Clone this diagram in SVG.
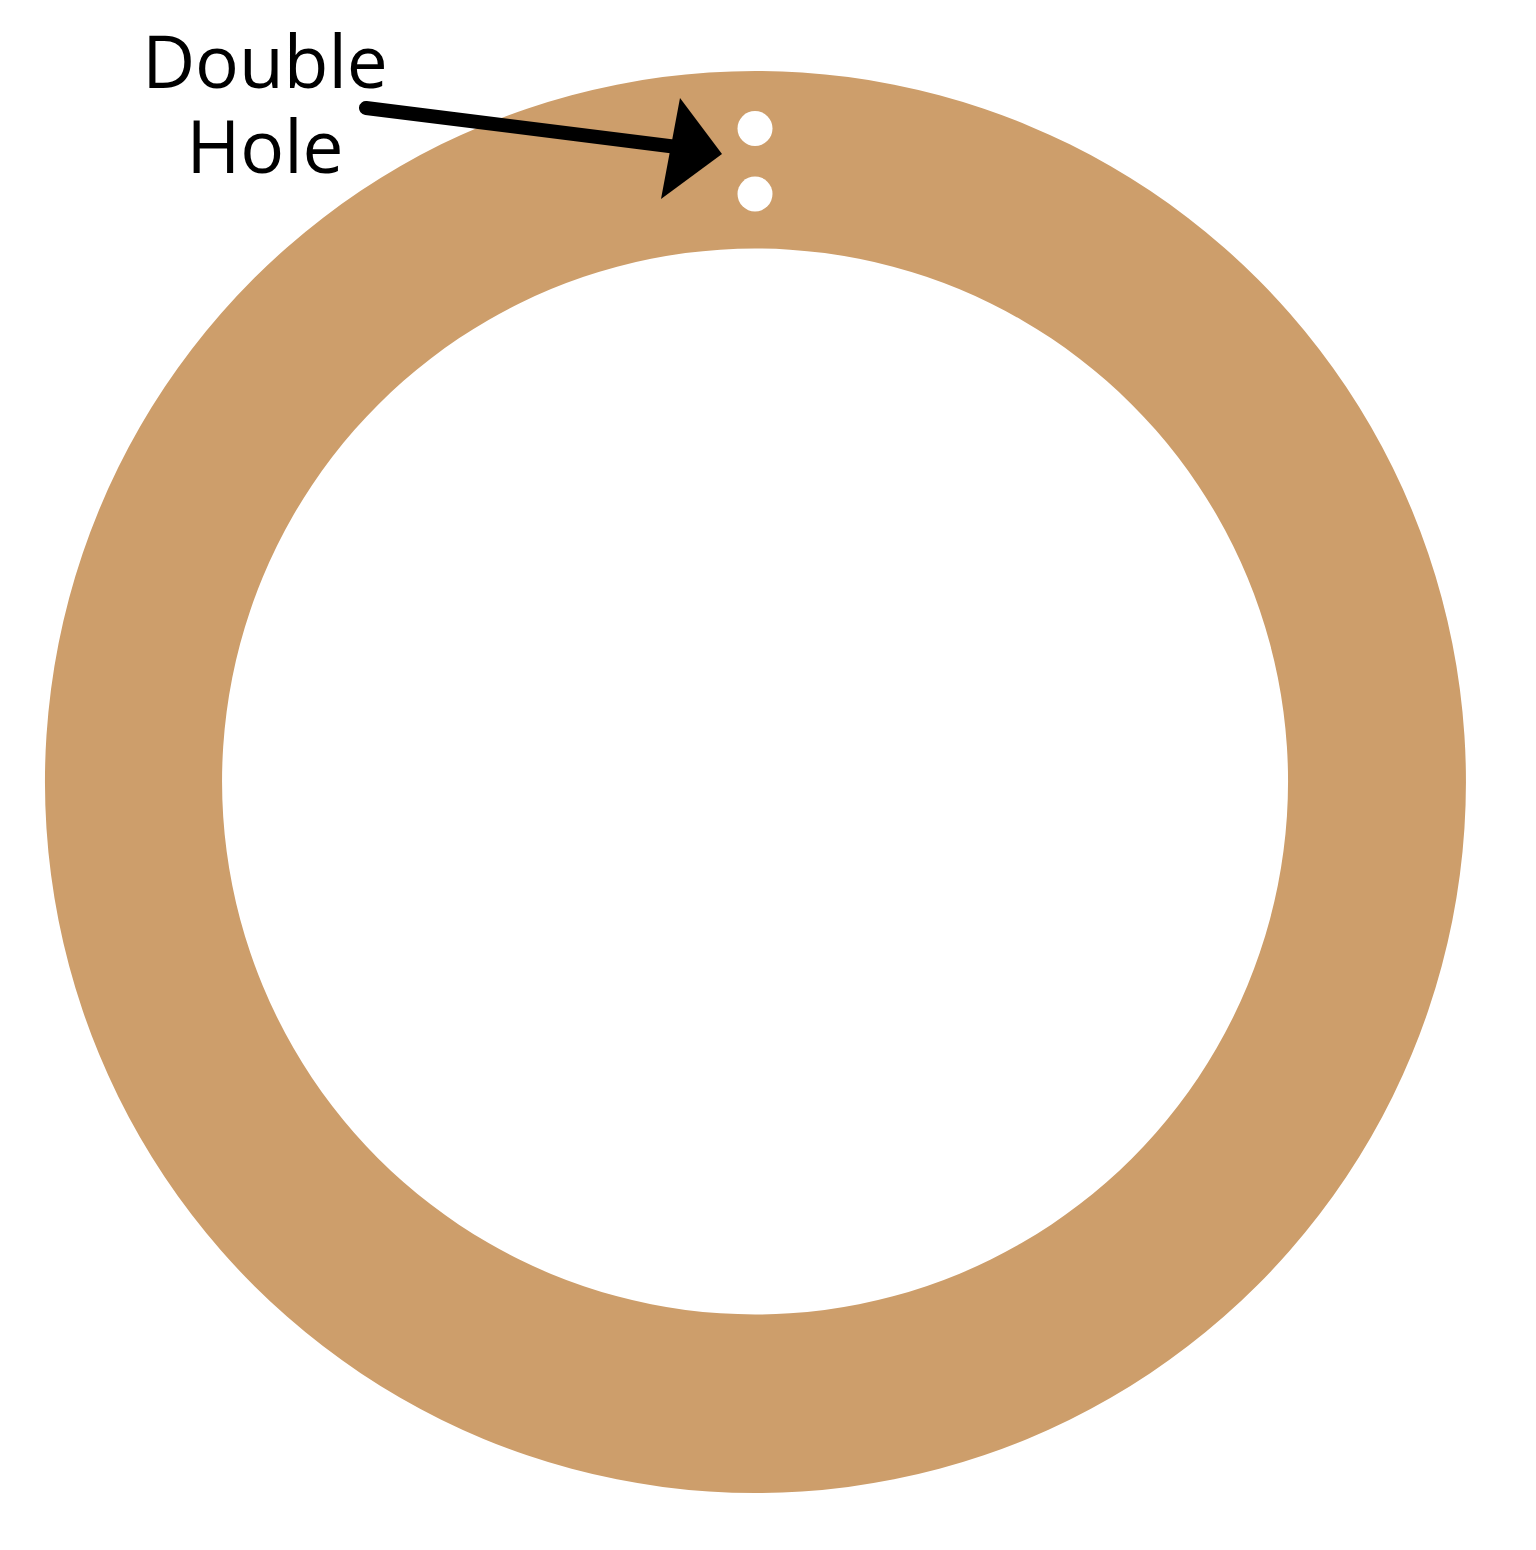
<svg xmlns="http://www.w3.org/2000/svg" width="1536" height="1550" viewBox="0 0 1536 1550">
  <style>
    .ring { fill: #CD9E6B; fill-rule: evenodd; }
    .hole { fill: #FFFFFF; }
    .label { font-family: "Open Sans", "Liberation Sans", sans-serif; font-size: 73px; fill: #000000; text-anchor: middle; }
    .shaft { stroke: #000000; stroke-width: 14; stroke-linecap: round; fill: none; }
  </style>
  <rect width="1536" height="1550" fill="#FFFFFF"/>
  <g id="ring">
    <path class="ring" d="M 755.5 71 A 710.5 711 0 1 1 755.4 71 Z M 755 248.5 A 533 533 0 1 0 755.1 248.5 Z"/>
  </g>
  <g id="double-hole">
    <circle class="hole" cx="755" cy="128.5" r="17.5"/>
    <circle class="hole" cx="755" cy="194" r="17.5"/>
  </g>
  <g id="label">
    <text class="label"><tspan x="265" y="88">Double</tspan><tspan x="265" y="173">Hole</tspan></text>
  </g>
  <g id="connectors">
    <line class="shaft" x1="366" y1="108" x2="685" y2="148"/>
    <polygon points="680,98 722,154 661,199" fill="#000000"/>
  </g>
</svg>
